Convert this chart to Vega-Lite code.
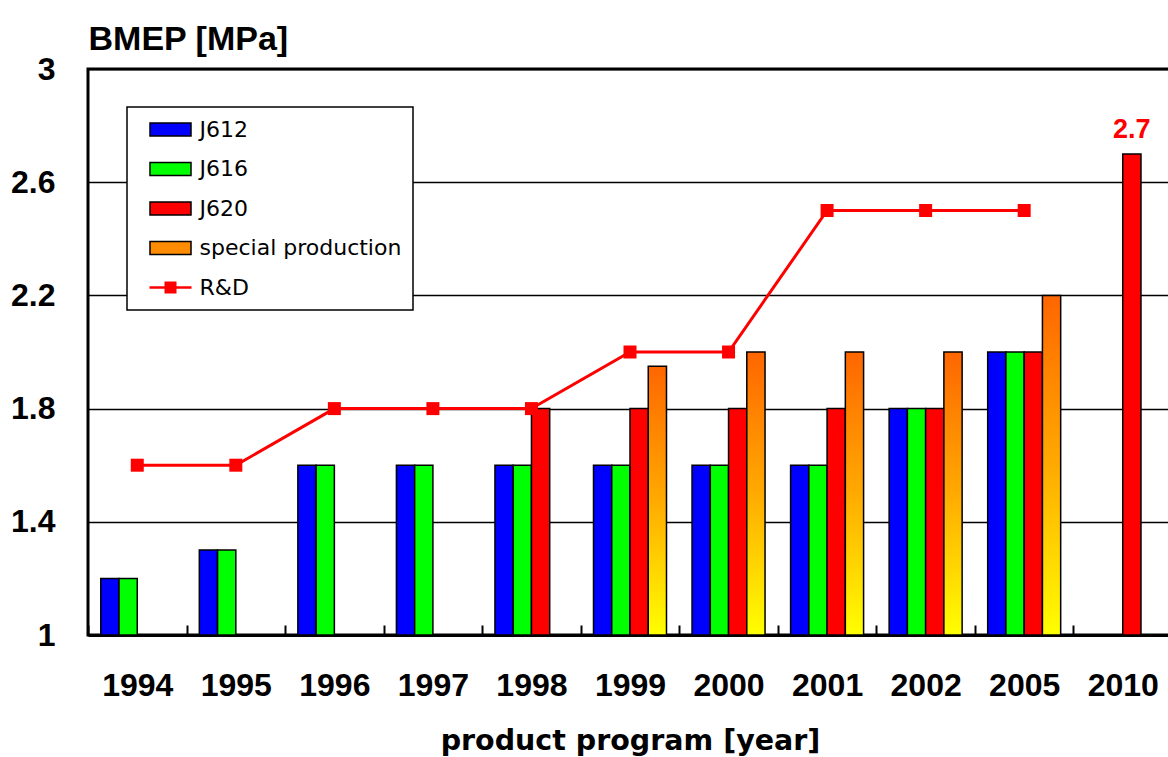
{
  "$schema": "https://vega.github.io/schema/vega-lite/v6.json",
  "width": 1084,
  "height": 566,
  "autosize": "none",
  "padding": {"left": 88, "top": 69, "right": 0, "bottom": 122},
  "background": "white",
  "config": {"font": "Liberation Sans", "view": {"stroke": "black", "strokeWidth": 3}},
  "data": {"values": [
    {"year": "1994", "series": "J612", "value": 1.2},
    {"year": "1994", "series": "J616", "value": 1.2},
    {"year": "1994", "series": "R&D", "value": 1.6},
    {"year": "1995", "series": "J612", "value": 1.3},
    {"year": "1995", "series": "J616", "value": 1.3},
    {"year": "1995", "series": "R&D", "value": 1.6},
    {"year": "1996", "series": "J612", "value": 1.6},
    {"year": "1996", "series": "J616", "value": 1.6},
    {"year": "1996", "series": "R&D", "value": 1.8},
    {"year": "1997", "series": "J612", "value": 1.6},
    {"year": "1997", "series": "J616", "value": 1.6},
    {"year": "1997", "series": "R&D", "value": 1.8},
    {"year": "1998", "series": "J612", "value": 1.6},
    {"year": "1998", "series": "J616", "value": 1.6},
    {"year": "1998", "series": "J620", "value": 1.8},
    {"year": "1998", "series": "R&D", "value": 1.8},
    {"year": "1999", "series": "J612", "value": 1.6},
    {"year": "1999", "series": "J616", "value": 1.6},
    {"year": "1999", "series": "J620", "value": 1.8},
    {"year": "1999", "series": "special production", "value": 1.95},
    {"year": "1999", "series": "R&D", "value": 2.0},
    {"year": "2000", "series": "J612", "value": 1.6},
    {"year": "2000", "series": "J616", "value": 1.6},
    {"year": "2000", "series": "J620", "value": 1.8},
    {"year": "2000", "series": "special production", "value": 2.0},
    {"year": "2000", "series": "R&D", "value": 2.0},
    {"year": "2001", "series": "J612", "value": 1.6},
    {"year": "2001", "series": "J616", "value": 1.6},
    {"year": "2001", "series": "J620", "value": 1.8},
    {"year": "2001", "series": "special production", "value": 2.0},
    {"year": "2001", "series": "R&D", "value": 2.5},
    {"year": "2002", "series": "J612", "value": 1.8},
    {"year": "2002", "series": "J616", "value": 1.8},
    {"year": "2002", "series": "J620", "value": 1.8},
    {"year": "2002", "series": "special production", "value": 2.0},
    {"year": "2002", "series": "R&D", "value": 2.5},
    {"year": "2005", "series": "J612", "value": 2.0},
    {"year": "2005", "series": "J616", "value": 2.0},
    {"year": "2005", "series": "J620", "value": 2.0},
    {"year": "2005", "series": "special production", "value": 2.2},
    {"year": "2005", "series": "R&D", "value": 2.5},
    {"year": "2010", "series": "J620", "value": 2.7}
  ]},
  "encoding": {
    "x": {
      "field": "year", "type": "nominal",
      "scale": {"domain": ["1994","1995","1996","1997","1998","1999","2000","2001","2002","2005","2010"], "paddingInner": 0, "paddingOuter": 0},
      "axis": {
        "labelAngle": 0, "labelFont": "Liberation Sans", "labelFontWeight": "bold", "labelFontSize": 32, "labelColor": "black",
        "labelPadding": 45, "tickSize": -10, "tickWidth": 2, "tickColor": "black", "tickBand": "extent",
        "domainColor": "black", "domainWidth": 3, "grid": false,
        "title": "product program [year]", "titleFont": "DejaVu Sans", "titleFontSize": 28.5, "titleFontWeight": "bold",
        "titleColor": "black", "titleY": 114, "titleBaseline": "alphabetic"
      }
    },
    "y": {
      "field": "value", "type": "quantitative",
      "scale": {"domain": [1, 3], "nice": false, "zero": false},
      "axis": {
        "values": [1, 1.4, 1.8, 2.2, 2.6, 3], "format": "~g",
        "labelFont": "Liberation Sans", "labelFontWeight": "bold", "labelFontSize": 32, "labelColor": "black",
        "labelPadding": 33, "ticks": false, "tickSize": 0, "domain": false, "labelFlush": false, "labelOverlap": false, "labelBound": false,
        "grid": true, "gridColor": "black", "gridWidth": 1.6, "gridOpacity": 1,
        "title": "BMEP [MPa]", "titleAngle": 0, "titleX": 0, "titleY": -20, "titleAlign": "left", "titleBaseline": "alphabetic",
        "titleFont": "Liberation Sans", "titleFontSize": 34, "titleFontWeight": "bold", "titleColor": "black"
      }
    }
  },
  "layer": [
    {
      "transform": [{"filter": "datum.series === 'J612' || datum.series === 'J616' || datum.series === 'J620'"}],
      "mark": {"type": "bar", "stroke": "black", "strokeWidth": 1.5, "opacity": 1},
      "encoding": {
        "xOffset": {"field": "series", "type": "nominal", "scale": {"domain": ["J612","J616","J620","special production"], "paddingInner": 0, "paddingOuter": 0.7}},
        "y2": {"datum": 1},
        "color": {
          "field": "series", "type": "nominal",
          "scale": {"domain": ["J612","J616","J620","special production","R&D"], "range": ["#0000FF","#00FF00","#FF0000","#FF8C00","#FF0000"]},
          "legend": {
            "orient": "none", "legendX": 39, "legendY": 38, "title": null,
            "padding": 11.5, "rowPadding": 17.5, "symbolSize": 400, "symbolOffset": 21, "labelOffset": 18,
            "labelFont": "DejaVu Sans", "labelFontSize": 22, "labelColor": "black", "labelLimit": 400,
            "fillColor": "white", "strokeColor": "black",
            "symbolStrokeColor": "black", "symbolStrokeWidth": 1.5, "symbolOpacity": 1,
            "encode": {
              "legend": {"update": {"strokeWidth": {"value": 1.5}}},
              "symbols": {"update": {
                "shape": {"signal": "datum.value === 'R&D' ? 'M-2.1,-0.13H2.1V0.13H-2.1Z M-0.6,-0.6H0.6V0.6H-0.6Z' : 'M-2.05,-0.65H2.05V0.65H-2.05Z'"},
                "strokeWidth": {"signal": "datum.value === 'R&D' ? 0 : 1.5"},
                "stroke": {"signal": "datum.value === 'R&D' ? 'transparent' : 'black'"}
              }}
            }
          }
        }
      }
    },
    {
      "transform": [{"filter": "datum.series === 'special production'"}],
      "mark": {"type": "bar", "stroke": "black", "strokeWidth": 1.5, "opacity": 1,
        "color": {"gradient": "linear", "x1": 0, "y1": 0, "x2": 0, "y2": 1, "stops": [{"offset": 0, "color": "#FF6600"}, {"offset": 0.5, "color": "#FFAA00"}, {"offset": 1, "color": "#FFFF00"}]}},
      "encoding": {
        "xOffset": {"field": "series", "type": "nominal"},
        "y2": {"datum": 1}
      }
    },
    {
      "transform": [{"filter": "datum.series === 'R&D'"}],
      "mark": {"type": "line", "color": "#FF0000", "strokeWidth": 3,
        "point": {"shape": "square", "size": 169, "filled": true, "color": "#FF0000", "opacity": 1}},
      "encoding": {}
    },
    {
      "transform": [{"filter": "datum.year === '2010'"}],
      "mark": {"type": "text", "color": "#FF0000", "font": "Liberation Sans", "fontWeight": "bold", "fontSize": 27, "dy": -16, "baseline": "alphabetic"},
      "encoding": {
        "xOffset": {"field": "series", "type": "nominal"},
        "text": {"field": "value", "type": "quantitative", "format": ".1f"}
      }
    }
  ]
}
